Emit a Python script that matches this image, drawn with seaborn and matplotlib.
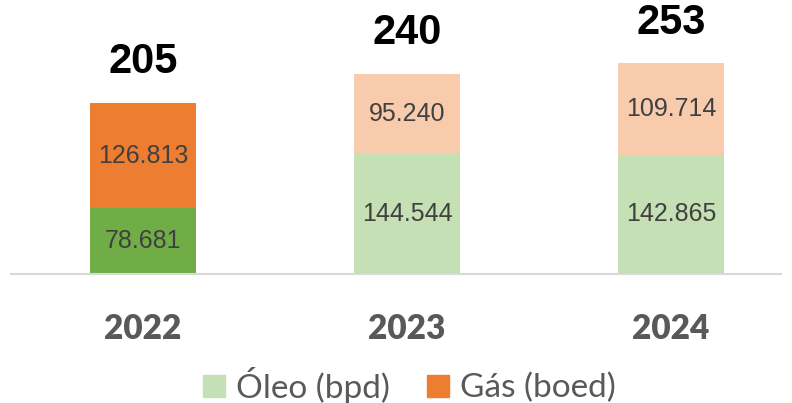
import pandas as pd
import matplotlib
matplotlib.use('Agg')
import matplotlib.pyplot as plt
from matplotlib.patches import Patch
import seaborn as sns

sns.set_style("white")
plt.rcParams['font.family'] = ['Liberation Sans', 'DejaVu Sans']

# dados
anos = ['2022', '2023', '2024']
oleo = [78.681, 144.544, 142.865]
gas = [126.813, 95.240, 109.714]
totais = [205, 240, 253]
rotulos_oleo = ['78.681', '144.544', '142.865']
rotulos_gas = ['126.813', '95.240', '109.714']

cores_oleo = ['#70AD47', '#C5E0B4', '#C5E0B4']
cores_gas = ['#ED7D31', '#F8CBAD', '#F8CBAD']

df = pd.DataFrame({'ano': anos, 'oleo': oleo, 'gas': gas})
df['soma'] = df['oleo'] + df['gas']

fig = plt.figure(figsize=(7.92, 4.03), dpi=100)
ax = fig.add_axes([11 / 792, 1 - 274 / 403, 770 / 792, 264 / 403])

# barra total (gás por cima) e depois óleo na base
sns.barplot(data=df, x='ano', y='soma', hue='ano', palette=cores_gas,
            width=0.4, saturation=1, legend=False, linewidth=0, ax=ax)
sns.barplot(data=df, x='ano', y='oleo', hue='ano', palette=cores_oleo,
            width=0.4, saturation=1, legend=False, linewidth=0, ax=ax)

ax.set_xlim(-0.5, 2.417)
ax.set_ylim(0, 316.7)

for i in range(len(anos)):
    ax.text(i, oleo[i] / 2, rotulos_oleo[i], ha='center', va='center',
            fontsize=18, color='#404040')
    ax.text(i, oleo[i] + gas[i] / 2, rotulos_gas[i], ha='center', va='center',
            fontsize=18, color='#404040')
    ax.annotate(str(totais[i]), (i, oleo[i] + gas[i]), xytext=(0, 15),
                textcoords='offset points', ha='center', va='bottom',
                fontsize=30, fontweight='bold', color='black')

ax.set_xlabel('')
ax.set_ylabel('')
ax.set_yticks([])
ax.tick_params(axis='x', length=0, pad=28)
for lbl in ax.get_xticklabels():
    lbl.set_fontfamily('Lato')
    lbl.set_fontweight('heavy')
    lbl.set_fontsize(24)
    lbl.set_color('#595959')

for s in ['top', 'right', 'left']:
    ax.spines[s].set_visible(False)
ax.spines['bottom'].set_color('#D9D9D9')
ax.spines['bottom'].set_linewidth(1.5)

handles = [Patch(color='#C5E0B4', label='Óleo (bpd)'),
           Patch(color='#ED7D31', label='Gás (boed)')]
fig.legend(handles=handles, loc='center', bbox_to_anchor=(0.517, 1 - 385 / 403),
           ncol=2, frameon=False, handlelength=0.65, handleheight=0.65,
           handletextpad=0.35, columnspacing=1.1,
           prop={'family': 'Lato', 'size': 24}, labelcolor='#595959')

fig.savefig('out.png', dpi=100)
